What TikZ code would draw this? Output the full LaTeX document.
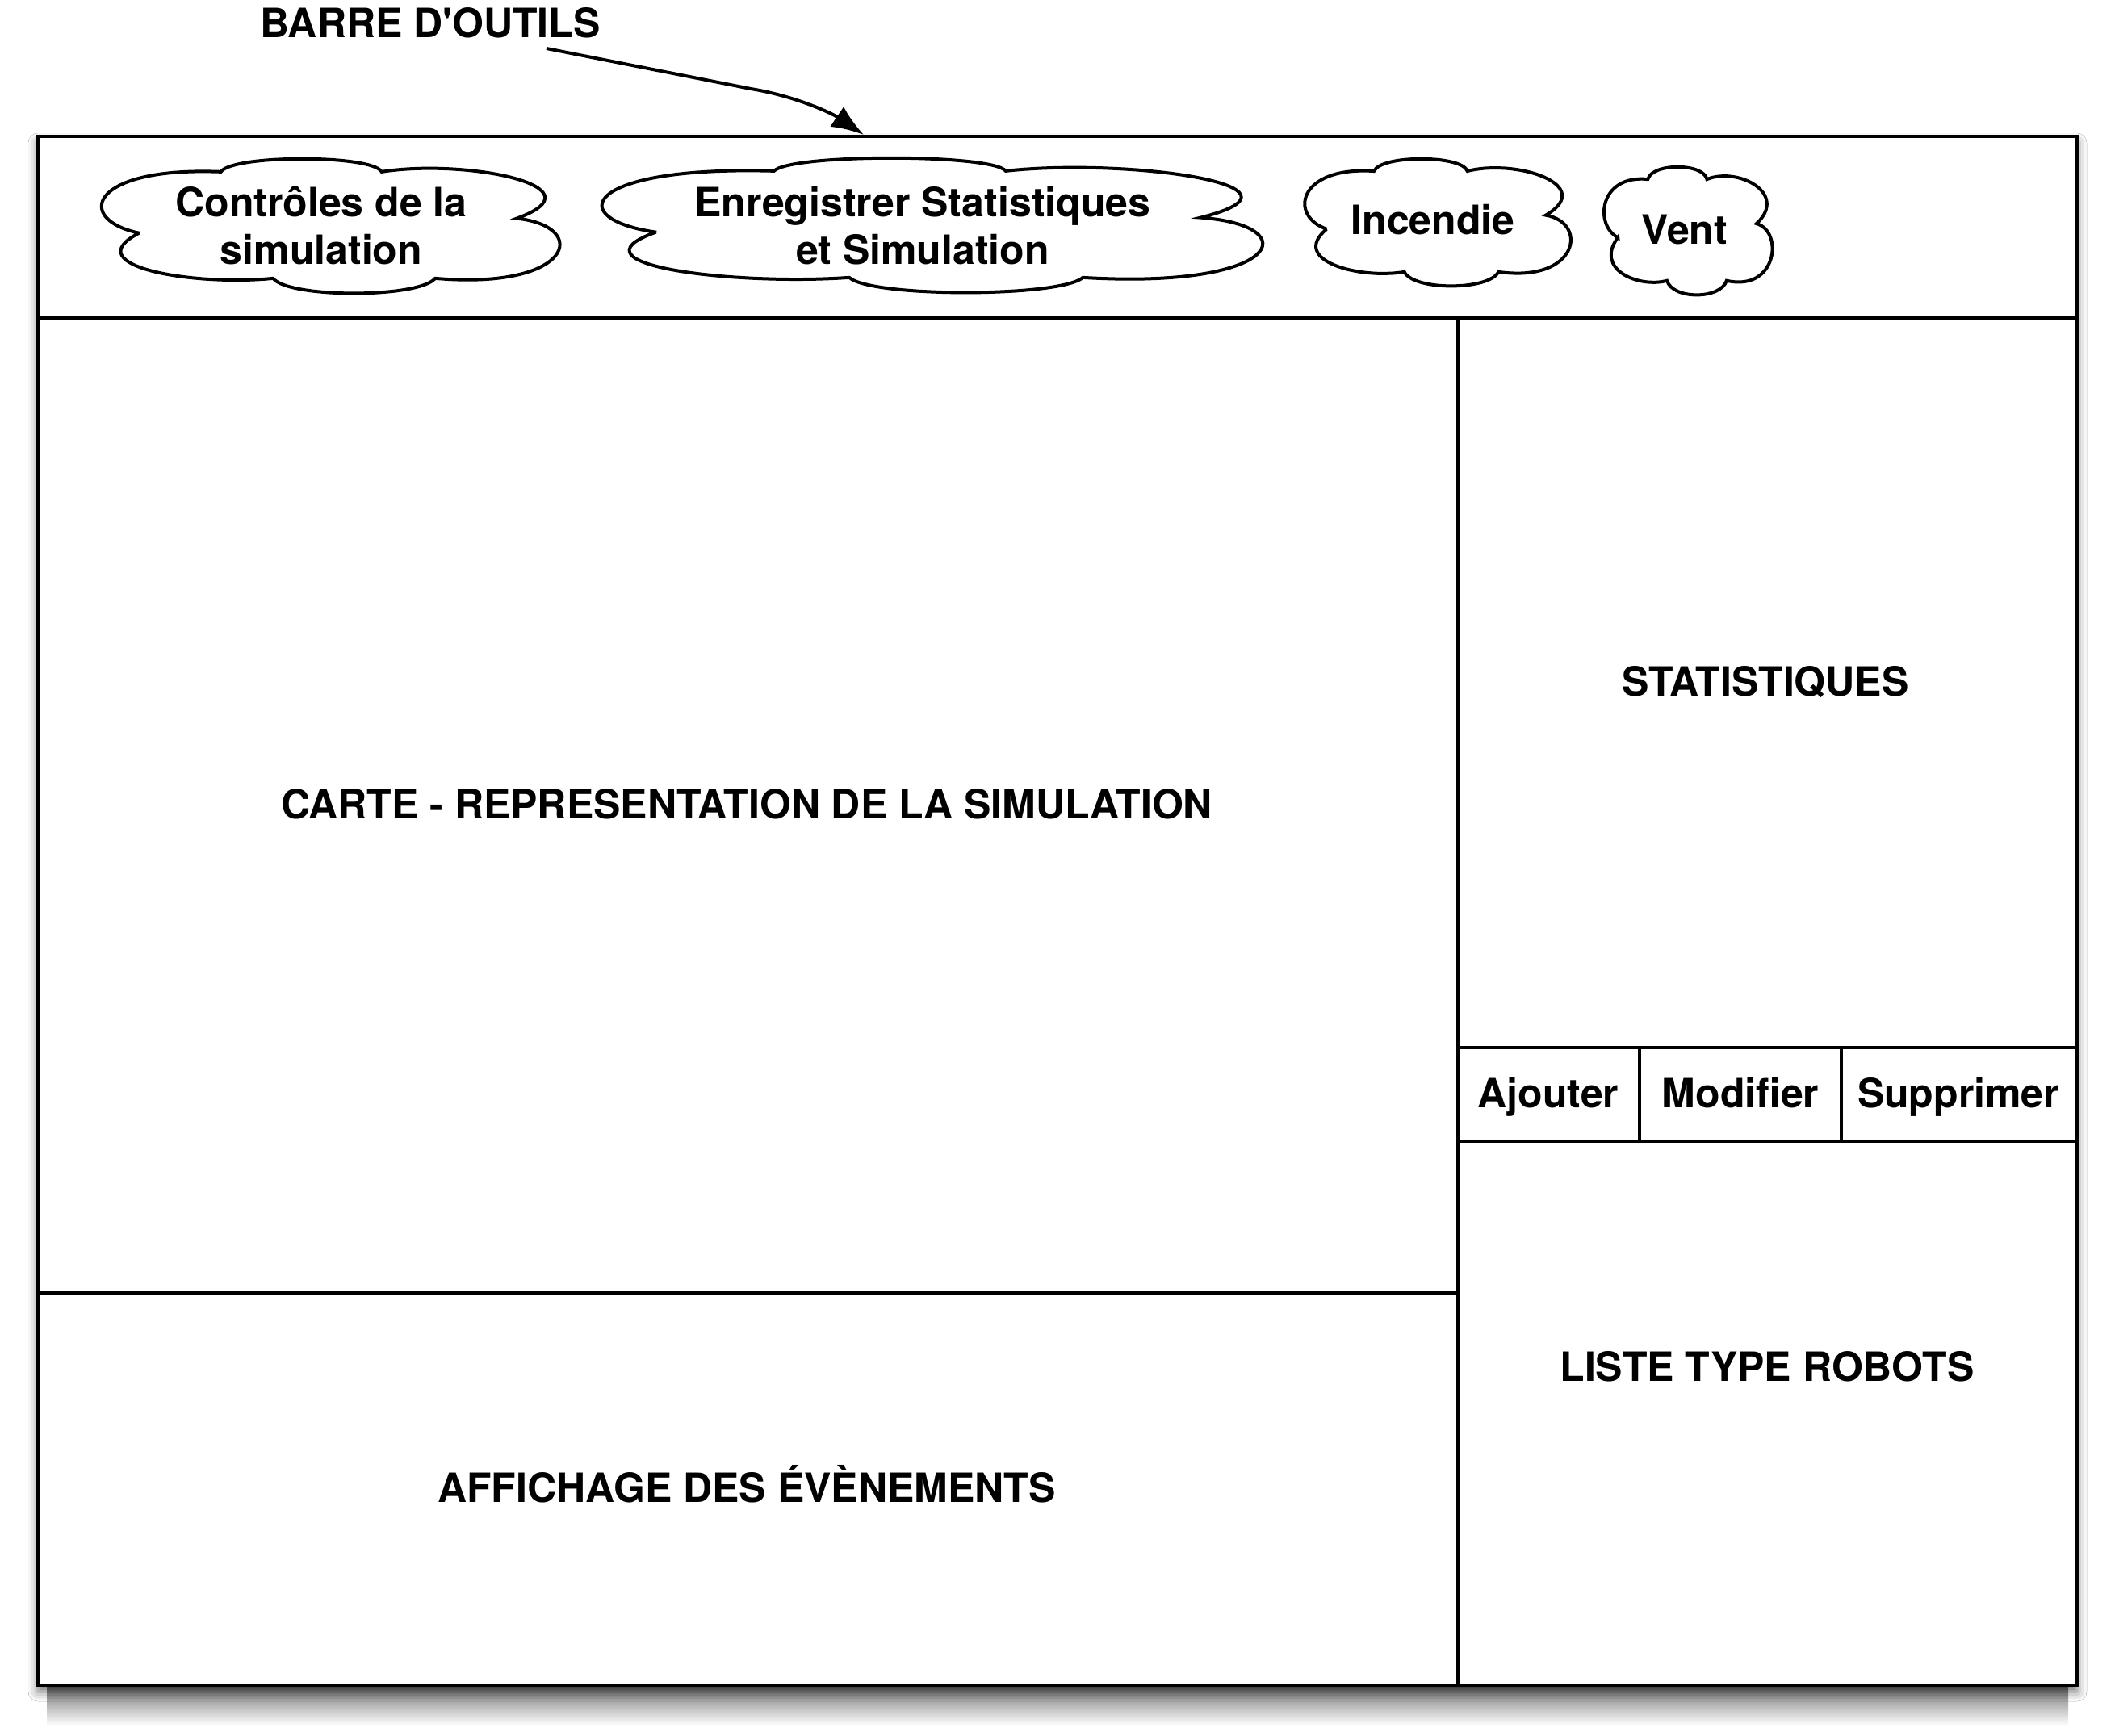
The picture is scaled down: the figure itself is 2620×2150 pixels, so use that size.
\documentclass[tikz,border=0pt]{standalone}
\usepackage{fontspec}
\setmainfont{TeX Gyre Heros}[Ligatures=TeXOff]
\usetikzlibrary{arrows.meta,shadows.blur}

\newcommand\omnicloud[4]{%
  \begin{scope}[shift={(#1,#2)}, xscale=#3, yscale=#4]
    \draw[cloudline] (0.10,0.55)
      .. controls (-0.04,0.45) and (-0.01,0.05) .. (0.275,0.09)
      .. controls (0.30,-0.04) and (0.60,-0.04) .. (0.62,0.09)
      .. controls (0.80,-0.01) and (1.10,0.20) .. (0.91,0.44)
      .. controls (1.07,0.50) and (1.03,0.98) .. (0.735,0.89)
      .. controls (0.70,1.04) and (0.42,1.04) .. (0.387,0.89)
      .. controls (0.22,0.95) and (-0.04,0.80) .. cycle;
  \end{scope}}

\begin{document}
\begin{tikzpicture}[x=1pt,y=-1pt,
  lbl/.style={font=\fontsize{50}{59}\selectfont\bfseries, inner sep=0pt, anchor=base, align=center},
  framebox/.style={draw, line width=4.5pt, fill=white,
    blur shadow={shadow xshift=0pt, shadow yshift=-8pt, shadow blur radius=12pt, shadow opacity=55},
    minimum width=2526pt, minimum height=1919pt, inner sep=0pt},
  heavyline/.style={line width=4.5pt},
  divline/.style={line width=3.5pt},
  cloudline/.style={line width=4pt, fill=white},
  pointer/.style={line width=4pt, -{Latex[length=40pt,width=30pt]}}
]
\fill[white] (0,0) rectangle (2620,2150);
\useasboundingbox (0,0) rectangle (2620,2150);

% soft shadow under the window
\shade[top color=black!60, bottom color=white] (58,2084) rectangle (2562,2138);

% main window
\node[framebox] (frame) at (1310,1128.5) {};

% separating lines
\coordinate (tbL) at (47,394);   \coordinate (tbR) at (2573,394);
\coordinate (vT) at (1806,394);  \coordinate (vB) at (1806,2088);
\coordinate (hL) at (47,1602);   \coordinate (hR) at (1806,1602);
\coordinate (b1L) at (1806,1298); \coordinate (b1R) at (2573,1298);
\coordinate (b2L) at (1806,1414); \coordinate (b2R) at (2573,1414);
\coordinate (d1T) at (2031,1298); \coordinate (d1B) at (2031,1414);
\coordinate (d2T) at (2281,1298); \coordinate (d2B) at (2281,1414);

\draw[heavyline] (tbL) -- (tbR);
\draw[divline] (vT) -- (vB);
\draw[divline] (hL) -- (hR);
\draw[divline] (b1L) -- (b1R);
\draw[divline] (b2L) -- (b2R);
\draw[divline] (d1T) -- (d1B);
\draw[divline] (d2T) -- (d2B);

% toolbar clouds
\omnicloud{115}{198}{577}{165}
\omnicloud{730}{197}{832}{165}
\omnicloud{1610}{198}{335}{156}
\omnicloud{1983}{208}{212}{157}

\node[lbl] (ctrl) at (398,327) {Contrôles de la\\simulation};
\node[lbl] (save) at (1143,327) {Enregistrer Statistiques\\et Simulation};
\node[lbl] (fire) at (1775,290) {Incendie};
\node[lbl] (wind) at (2087,302) {Vent};

% panel labels
\node[lbl] (carte) at (925,1014) {CARTE - REPRESENTATION DE LA SIMULATION};
\node[lbl] (stats) at (2187,862) {STATISTIQUES};
\node[lbl] (add) at (1918,1372) {Ajouter};
\node[lbl] (mod) at (2156,1372) {Modifier};
\node[lbl] (del) at (2426,1372) {Supprimer};
\node[lbl] (robots) at (2189,1711) {LISTE TYPE ROBOTS};
\node[lbl] (events) at (925,1861) {AFFICHAGE DES ÉVÈNEMENTS};

% toolbar callout
\node[lbl] (tbar) at (533,46) {BARRE D'OUTILS};
\coordinate (arrS) at (677,60);
\coordinate (arrE) at (1070,167);
\draw[pointer] (arrS) -- (930,110) .. controls (985,119) and (1030,140) .. (arrE);
\end{tikzpicture}
\end{document}
